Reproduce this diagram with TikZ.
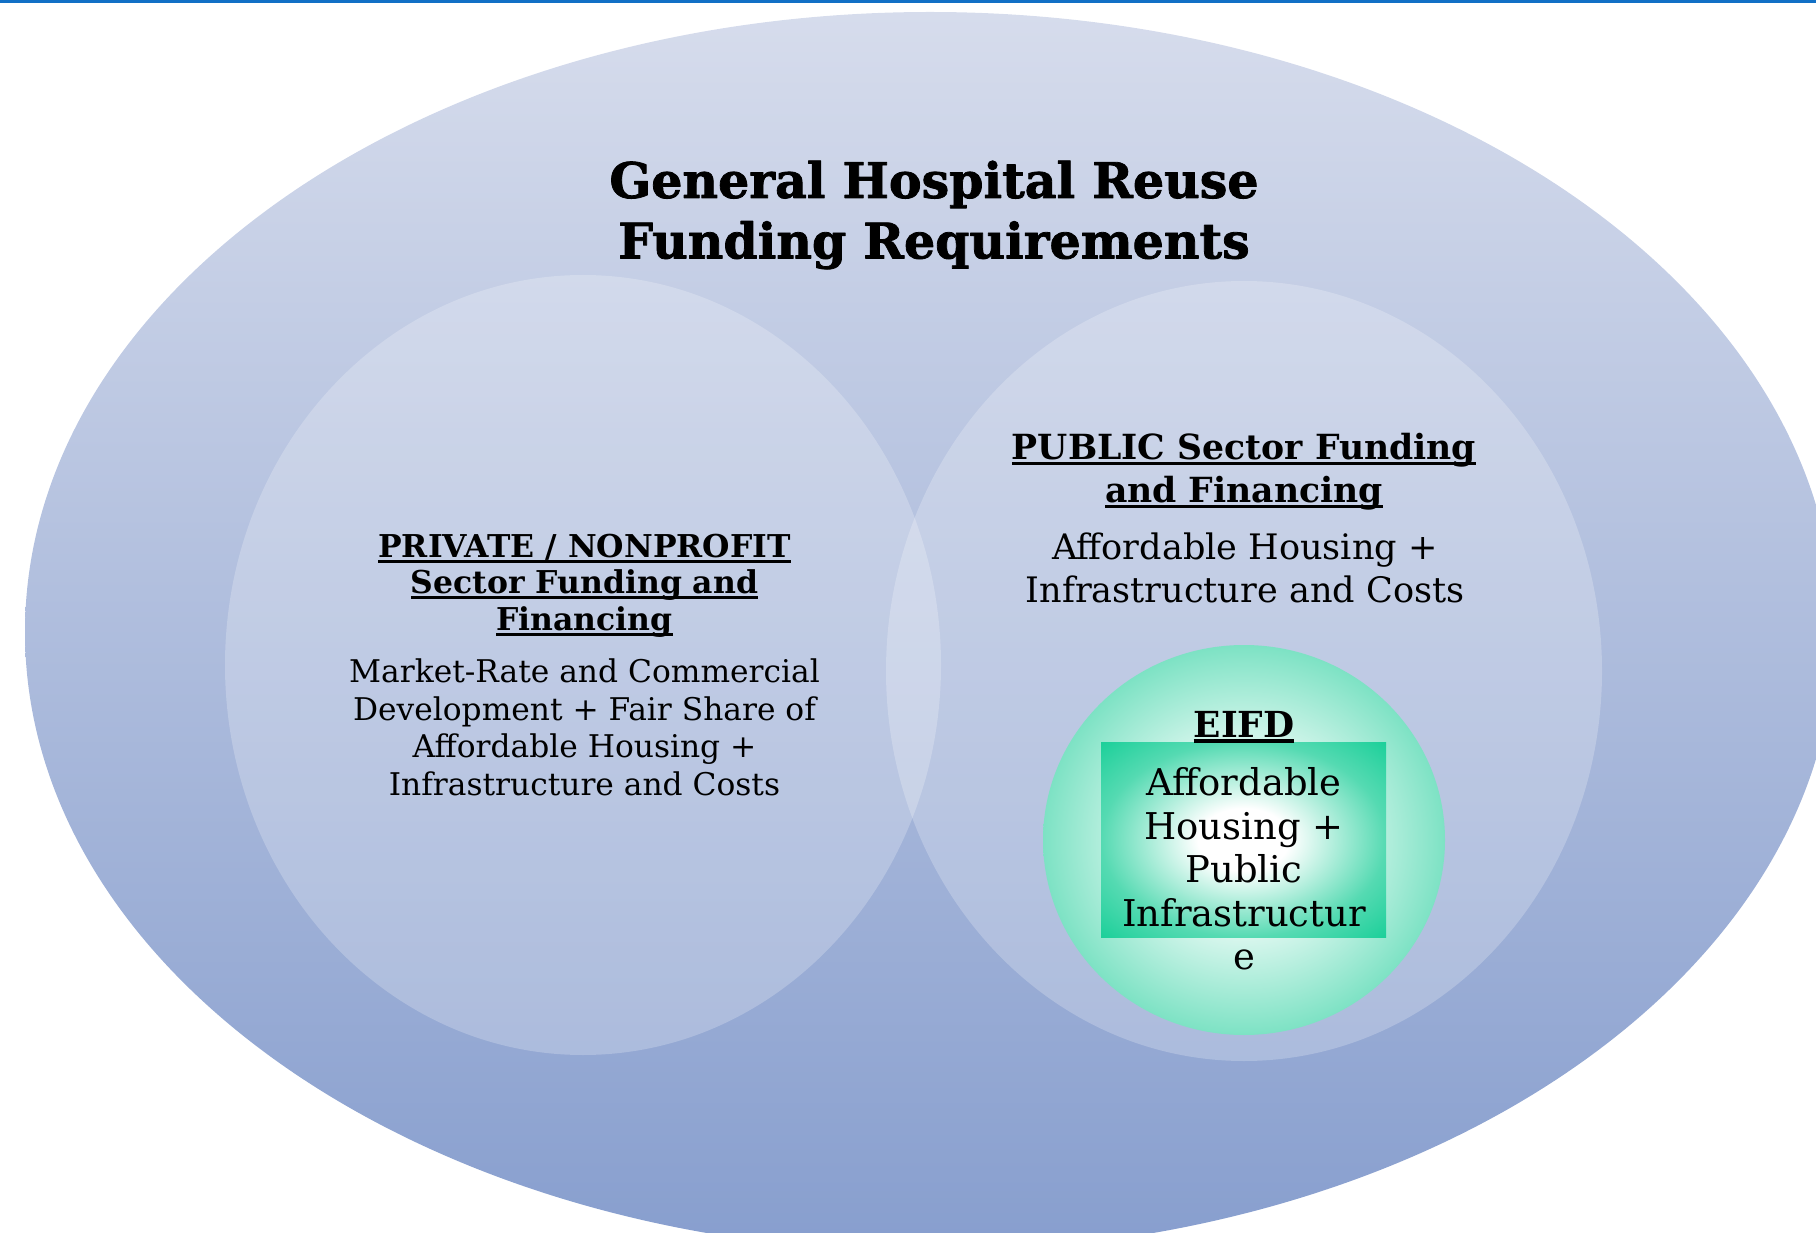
\documentclass[tikz,border=0pt]{standalone}
\usepackage{fontspec}
\setmainfont{DejaVu Serif}
\newfontfamily\heavyfont[BoldFeatures={FakeBold=1.6}]{DejaVu Serif}
\definecolor{topline}{HTML}{1170C6}
\definecolor{ovaltop}{HTML}{D6DCEC}
\definecolor{ovalbot}{HTML}{879ECE}
\definecolor{mintedge}{HTML}{7DE2C4}
\definecolor{eifdmid}{HTML}{55DAB2}
\definecolor{eifdgreen}{HTML}{18CF98}
\pgfdeclareradialshading{eifdglow}{\pgfpoint{0bp}{0bp}}{color(0bp)=(white); color(7bp)=(white); color(25bp)=(mintedge); color(50bp)=(mintedge)}
\pgfdeclareradialshading{eifdbox}{\pgfpoint{0bp}{0bp}}{color(0bp)=(white); color(8bp)=(white); color(25bp)=(eifdmid); color(36bp)=(eifdgreen); color(50bp)=(eifdgreen)}
\newcommand{\ulin}[1]{\setbox0\hbox{#1}\leavevmode\rlap{\rule[-1.6pt]{\wd0}{0.9pt}}\box0}
\begin{document}
\begin{tikzpicture}[line join=round, line cap=round,
	hd/.style 2 args={font=\bfseries\fontsize{#1}{#2}\selectfont, align=center, inner sep=0pt},
	bd/.style 2 args={font=\fontsize{#1}{#2}\selectfont, align=center, inner sep=0pt}]
	%Khung hình
	\def\W{18.16}	\def\H{12.32}
	\useasboundingbox (0,0) rectangle (\W,\H);
	\begin{scope}
		\clip (0,0) rectangle (\W,\H);
		%Elip lớn
		\shade[top color=ovaltop, bottom color=ovalbot] (9.30,6.00) ellipse (9.05 and 6.20);
		%Hai hình tròn
		\foreach \x/\y in {5.83/5.67,12.44/5.61}
		\fill[white, fill opacity=.23] (\x,\y) ellipse (3.58 and 3.90);
		%Hình tròn EIFD và khung chữ
		\shade[shading=eifdglow] (12.44,3.92) ellipse (2.01 and 1.95);
		\shade[shading=eifdbox] (11.01,2.95) rectangle (13.86,4.90);
		%Đường kẻ trên cùng
		\fill[topline] (0,\H-0.035) rectangle (\W,\H);
	\end{scope}
	%Tiêu đề
	\node[hd={13.95}{17.2}, font=\heavyfont\bfseries\fontsize{13.95}{17.2}\selectfont] (title) at (9.34,10.17) {General Hospital Reuse\\Funding Requirements};
	%Bên trái
	\node[hd={8.95}{10.4}] (privhead) at (5.845,6.465) {\ulin{PRIVATE / NONPROFIT}\\\ulin{Sector Funding and}\\\ulin{Financing}};
	\node[bd={8.9}{10.7}] (privtext) at (5.845,5.045) {Market-Rate and Commercial\\Development + Fair Share of\\Affordable Housing +\\Infrastructure and Costs};
	%Bên phải
	\node[hd={9.85}{12.2}] (pubhead) at (12.44,7.60) {\ulin{PUBLIC Sector Funding}\\\ulin{and Financing}};
	\node[bd={9.98}{12.2}] (pubtext) at (12.45,6.64) {Affordable Housing +\\Infrastructure and Costs};
	%EIFD
	\node[hd={10.2}{12.2}, anchor=base] (eifdhead) at (12.44,4.95) {\ulin{EIFD}};
	\node[bd={10.5}{12.4}] (eifdtext) at (12.44,3.63) {Affordable\\Housing +\\Public\\Infrastructur\\e};
\end{tikzpicture}
\end{document}
